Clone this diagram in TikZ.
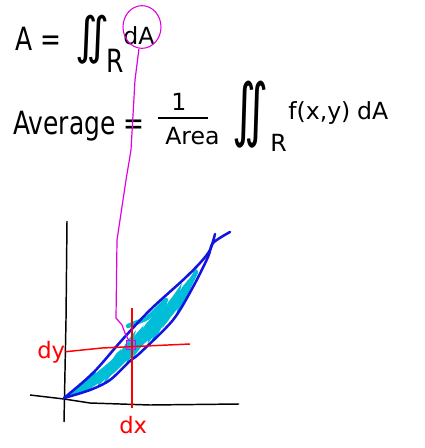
\documentclass[tikz,border=0pt]{standalone}
\usepackage{fontspec}
\setmainfont{DejaVu Sans}
\usetikzlibrary{shapes.geometric}

\definecolor{penblue}{RGB}{20,20,225}
\definecolor{pencyan}{RGB}{0,190,215}
\definecolor{penred}{RGB}{255,0,0}
\definecolor{penpink}{RGB}{225,0,225}

\tikzset{
  bigtxt/.style={font=\fontsize{24}{28}\selectfont, xscale=0.78, inner sep=0pt},
  midtxt/.style={font=\fontsize{17.7}{21}\selectfont, inner sep=0pt},
  labtxt/.style={font=\fontsize{17}{20}\selectfont, text=penred, inner sep=0pt},
  axis/.style={draw=black, line width=1.1pt},
  bluepen/.style={draw=penblue, line width=1.9pt, line cap=round, line join=round},
  scribble/.style={draw=pencyan, line width=3.4pt, line cap=round, rounded corners=3pt},
  redline/.style={draw=penred, line width=1.1pt},
  pinkline/.style={draw=penpink, line width=0.9pt}
}

\begin{document}
\begin{tikzpicture}[x=0.75pt, y=-0.75pt]
\useasboundingbox (0,0) rectangle (424,448);

% first line: area as a double integral
\node (areaA)[bigtxt, anchor=base west] at (15,51) {A =};
\node (int1)[inner sep=0pt, xscale=0.85, font=\fontsize{38}{38}\selectfont] at (92,40) {\makebox[22pt]{∬}};
\node (R1)[bigtxt, anchor=base west] at (106,73) {R};
\node (dA1)[midtxt, anchor=base west] at (123,45) {dA};
\node (ring)[ellipse, draw=penpink, line width=0.8pt, minimum width=28.5pt, minimum height=32pt, inner sep=0pt] at (142,27) {};

% second line: average value
\node (avg)[bigtxt, anchor=base west] at (13,135) {Average =};
\node (one)[midtxt, anchor=base] at (179,111) {1};
\draw[line width=0.8pt] (158,118) -- (208,118);
\node (area)[midtxt, anchor=base west] at (165,145) {Area};
\node (int2)[inner sep=0pt, xscale=0.66, font=\fontsize{52}{52}\selectfont] at (251,115) {\makebox[26pt]{∬}};
\node (R2)[midtxt, anchor=base west] at (270,152) {R};
\node (fxy)[midtxt, anchor=base west] at (288,120) {f(x,y)\hspace{5pt}dA};

% axes
\draw[axis] (67,221) -- (66,320) -- (64,422);
\draw[axis] (30,395) -- (64,399) -- (90,403) -- (150,405) -- (239,404);

% shaded region
\draw[scribble] (76,392) -- (95,372) -- (92,386) -- (115,360) -- (108,376) -- (132,338) -- (122,362) -- (150,322) -- (138,348) -- (165,305) -- (155,335) -- (178,292) -- (170,315) -- (192,278) -- (185,295);
\draw[scribble] (72,394) -- (88,380) -- (86,390) -- (104,370) -- (100,382) -- (120,352) -- (116,368) -- (140,332) -- (130,356) -- (158,312) -- (150,338) -- (172,300) -- (165,322) -- (186,285) -- (180,305) -- (196,272);
\draw[scribble] (84,386) -- (125,352) -- (142,334) -- (176,300) -- (190,284);
\draw[scribble] (80,392) -- (112,372) -- (134,350) -- (160,326) -- (182,300);
\draw[scribble] (128,326) -- (148,318) -- (166,300);

% boundary curves
\draw[bluepen] plot[smooth] coordinates {(64,398) (93,373) (122,340) (150,310) (183,280) (200,263) (210,250) (215,234)};
\draw[bluepen] plot[smooth] coordinates {(64,398) (90,390) (110,380) (130,361) (140,353) (173,320) (193,287) (208,257) (213,243) (230,232)};

% small piece dx dy
\node (dy)[labtxt, anchor=base west] at (37,358) {dy};
\node (dx)[labtxt, anchor=base west] at (119,433) {dx};
\coordinate (vtop) at (132,308);
\coordinate (hend) at (190,344);
\draw[redline, shorten >=6pt] (vtop) -- (dx.north -| vtop);
\draw[redline] (dy.east) -- (102,348) -- (hend);

\node (cell)[rectangle, draw=penpink, line width=0.8pt, minimum size=6.75pt, inner sep=0pt] at (131,345) {};
\draw[pinkline] (ring.262) -- (135,80) -- (131,150) -- (126,180) -- (117,240) -- (116,318) -- (122,325) -- (125,333) -- (cell);
\end{tikzpicture}
\end{document}
